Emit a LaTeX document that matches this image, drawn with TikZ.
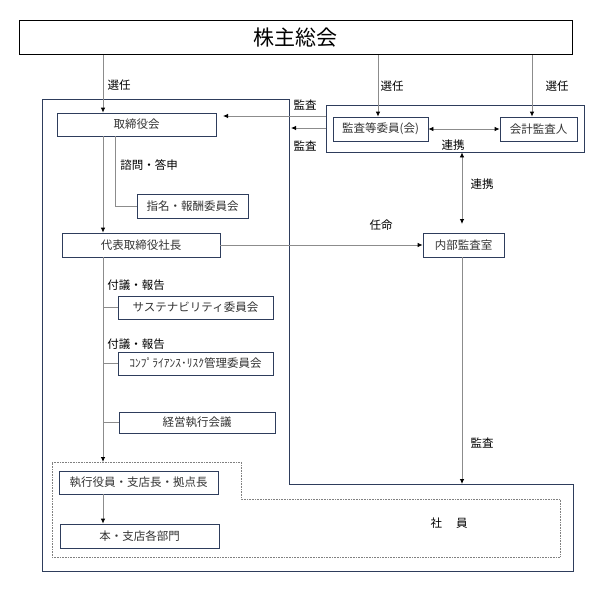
\documentclass[tikz,border=0pt]{standalone}
\usepackage{fontspec}
\setmainfont{Noto Sans CJK JP}
\usetikzlibrary{arrows.meta}
\definecolor{navy}{HTML}{2E3D5C}
\definecolor{conn}{HTML}{8C8C8C}
\definecolor{boxtext}{HTML}{333333}
\begin{document}
\begin{tikzpicture}[x=1pt,y=-1pt,
  box/.style={draw=navy,line width=0.8pt,fill=white,inner sep=0pt,text=boxtext,font=\fontsize{11.5}{13}\selectfont},
  lab/.style={inner sep=0pt,font=\fontsize{11.5}{13}\selectfont},
  conline/.style={draw=conn,line width=0.8pt},
  arr/.style={conline,-{Latex[length=5pt,width=4.5pt,color=black]}},
  darr/.style={conline,{Latex[length=5pt,width=4.5pt,color=black]}-{Latex[length=5pt,width=4.5pt,color=black]}},
  border/.style={draw=navy,line width=0.8pt},
  dotbox/.style={draw=gray,densely dotted,line width=0.6pt}]
\useasboundingbox (0,0) rectangle (605,594);
% outer company boundary
\draw[border] (42,99) -- (289,99) -- (289,484) -- (573,484) -- (573,571) -- (42,571) -- cycle;
% employee dotted area
\draw[dotbox] (52,462) -- (241,462) -- (241,499) -- (560,499) -- (560,557) -- (52,557) -- cycle;
% audit group box
\node[border,fill=white,minimum width=258pt,minimum height=47pt,inner sep=0pt] (kgroup) at (455,128.5) {};
% nodes
\node[draw=black,line width=1pt,inner sep=0pt,minimum width=553pt,minimum height=34pt,font=\fontsize{21}{24}\selectfont] (gm) at (295.5,38) {株主総会};
\node[box,minimum width=159pt,minimum height=23pt] (tori) at (136.5,124.5) {取締役会};
\node[box,minimum width=111pt,minimum height=24pt] (shimei) at (192.5,206) {指名・報酬委員会};
\node[box,minimum width=158pt,minimum height=24pt] (daihyo) at (141,245) {代表取締役社長};
\node[box,minimum width=155pt,minimum height=23pt] (sus) at (195.5,307.5) {サステナビリティ委員会};
\node[box,minimum width=155pt,minimum height=23pt] (comp) at (195.5,363.5) {ｺﾝﾌﾟﾗｲｱﾝｽ･ﾘｽｸ管理委員会};
\node[box,minimum width=156pt,minimum height=21pt] (keiei) at (197,422.5) {経営執行会議};
\node[box,minimum width=159pt,minimum height=23pt] (shikko) at (138.5,482.5) {執行役員・支店長・拠点長};
\node[box,minimum width=159pt,minimum height=24pt] (hon) at (139.5,536) {本・支店各部門};
\node[box,minimum width=95pt,minimum height=24pt] (kiin) at (380.5,129) {監査等委員(会)};
\node[box,minimum width=77pt,minimum height=24pt] (kaikei) at (538.5,129) {会計監査人};
\node[box,minimum width=81pt,minimum height=24pt] (naibu) at (463.5,245) {内部監査室};
% helper coordinates
\coordinate (xL) at (103,0);
\coordinate (xM) at (378,0);
\coordinate (xR) at (532,0);
\coordinate (xB) at (115,0);
\coordinate (tipA) at (223,116);
\coordinate (tipB) at (291,128);
\coordinate (tipC) at (462,224);
\coordinate (tipD) at (462,484);
\coordinate (tipE) at (103,462);
% connectors
\draw[arr] (gm.south -| xL) -- (tori.north -| xL);
\draw[arr] (gm.south -| xM) -- (kiin.north -| xM);
\draw[arr] (gm.south -| xR) -- (kaikei.north -| xR);
\draw[arr] (kgroup.west |- tipA) -- (tipA);
\draw[arr] (kgroup.west |- tipB) -- (tipB);
\draw[darr] (kiin.east) -- (kaikei.west);
\draw[darr] (kgroup.south -| tipC) -- (tipC);
\draw[arr] (daihyo.east) -- (naibu.west);
\draw[arr] (naibu.south -| tipD) -- (tipD);
\draw[arr] (tori.south -| xL) -- (daihyo.north -| xL);
\draw[conline] (tori.south -| xB) |- (shimei.west);
\draw[arr] (daihyo.south -| xL) -- (tipE);
\draw[conline] (sus.west -| xL) -- (sus.west);
\draw[conline] (comp.west -| xL) -- (comp.west);
\draw[conline] (keiei.west -| xL) -- (keiei.west);
\draw[arr] (shikko.south -| xL) -- (hon.north -| xL);
% labels
\node[lab] (l1) at (119,85) {選任};
\node[lab] (l2) at (392,86) {選任};
\node[lab] (l3) at (557,86) {選任};
\node[lab] (l4) at (305,105) {監査};
\node[lab] (l5) at (305,146) {監査};
\node[lab] (l6) at (453,145) {連携};
\node[lab] (l7) at (482,184) {連携};
\node[lab] (l8) at (149,165) {諮問・答申};
\node[lab] (l9) at (381,225) {任命};
\node[lab] (l10) at (136,285) {付議・報告};
\node[lab] (l11) at (136,344) {付議・報告};
\node[lab] (l12) at (482,443) {監査};
\node[lab] (l13) at (449,523) {社\hspace{14pt}員};
\end{tikzpicture}
\end{document}
